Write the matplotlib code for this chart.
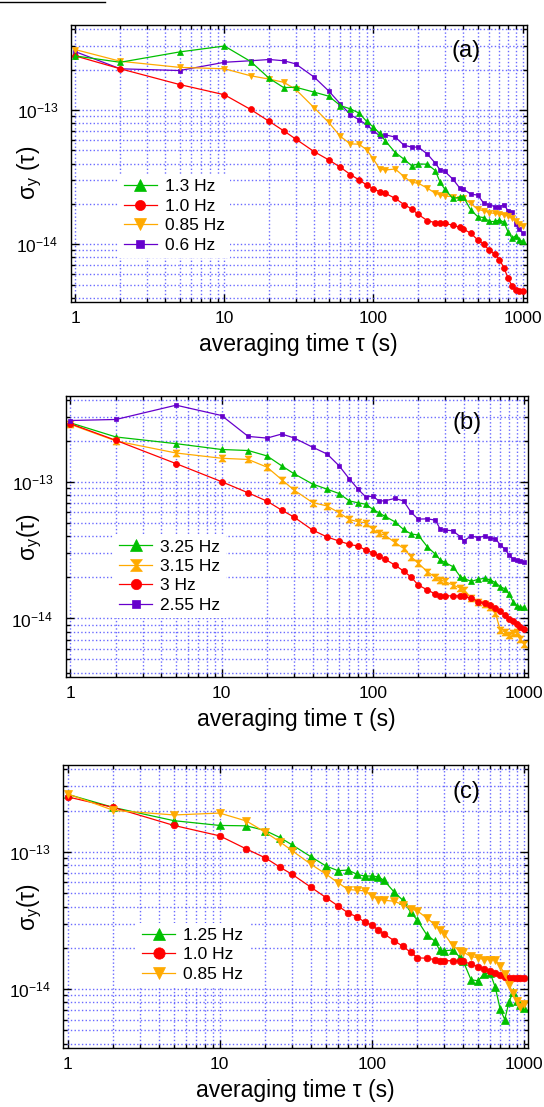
import numpy as np
import matplotlib
matplotlib.use("Agg")
import matplotlib.pyplot as plt
import matplotlib.ticker as ticker
from matplotlib.lines import Line2D

plt.rcParams["font.family"] = ["Liberation Sans", "DejaVu Sans"]
plt.rcParams["mathtext.fontset"] = "custom"
plt.rcParams["mathtext.rm"] = "Liberation Sans"
plt.rcParams["mathtext.it"] = "Liberation Sans:italic"
plt.rcParams["axes.unicode_minus"] = False

# averaging times (s), shared by all series
tau = [1, 2, 5, 10, 15, 20, 25, 30, 40, 50,
       60, 70, 80, 90, 100, 110, 120, 140, 160, 180,
       200, 230, 260, 280, 300, 340, 380, 400, 450, 500,
       550, 600, 650, 700, 750, 800, 850, 900, 950, 1000]

UNIT = 1e-13  # values below are in units of 1e-13

# panel (a)
a_13 = [2.53, 2.27, 2.71, 3.0, 2.30, 1.72, 1.47, 1.48, 1.36, 1.27,
        1.08, 1.02, 0.95, 0.823, 0.746, 0.67, 0.59, 0.483, 0.431, 0.386,
        0.397, 0.395, 0.354, 0.29, 0.259, 0.22, 0.224, 0.227, 0.18, 0.161,
        0.158, 0.148, 0.148, 0.152, 0.146, 0.124, 0.111, 0.116, 0.108, 0.105]
a_10 = [2.53, 2.03, 1.55, 1.30, 1.01, 0.823, 0.70, 0.61, 0.49, 0.426,
        0.375, 0.331, 0.302, 0.277, 0.259, 0.247, 0.24, 0.22, 0.198, 0.184,
        0.167, 0.15, 0.145, 0.143, 0.143, 0.139, 0.134, 0.13, 0.121, 0.108,
        0.1, 0.09, 0.085, 0.077, 0.067, 0.056, 0.049, 0.0456, 0.0453, 0.0453]
a_085 = [2.82, 2.31, 2.08, 2.03, 1.80, 1.70, 1.61, 1.43, 1.04, 0.81,
         0.636, 0.56, 0.557, 0.506, 0.431, 0.363, 0.358, 0.364, 0.32, 0.29,
         0.285, 0.262, 0.24, 0.234, 0.229, 0.227, 0.217, 0.22, 0.202, 0.182,
         0.178, 0.172, 0.17, 0.168, 0.166, 0.163, 0.156, 0.148, 0.141, 0.136]
a_06 = [2.72, 2.03, 1.97, 2.27, 2.33, 2.38, 2.33, 2.21, 1.76, 1.39,
        1.11, 0.923, 0.847, 0.777, 0.701, 0.643, 0.654, 0.629, 0.548, 0.53,
        0.53, 0.47, 0.402, 0.358, 0.35, 0.307, 0.262, 0.259, 0.236, 0.233,
        0.202, 0.197, 0.191, 0.191, 0.197, 0.178, 0.175, 0.141, 0.129, 0.122]

# panel (b)
b_325 = [2.73, 2.15, 1.92, 1.74, 1.71, 1.56, 1.32, 1.16, 0.97, 0.889,
         0.826, 0.73, 0.706, 0.69, 0.634, 0.597, 0.564, 0.513, 0.45, 0.417,
         0.41, 0.336, 0.296, 0.269, 0.258, 0.24, 0.203, 0.197, 0.187, 0.194,
         0.197, 0.192, 0.183, 0.171, 0.165, 0.151, 0.133, 0.124, 0.121, 0.121]
b_315 = [2.66, 2.01, 1.64, 1.50, 1.47, 1.29, 1.046, 0.88, 0.71, 0.669,
         0.597, 0.533, 0.513, 0.504, 0.45, 0.421, 0.41, 0.362, 0.327, 0.284,
         0.254, 0.221, 0.2, 0.192, 0.187, 0.176, 0.167, 0.162, 0.141, 0.131,
         0.128, 0.122, 0.109, 0.0817, 0.08, 0.076, 0.078, 0.08, 0.0706, 0.065]
b_3 = [2.69, 2.03, 1.37, 1.01, 0.836, 0.726, 0.624, 0.557, 0.446, 0.396,
       0.37, 0.35, 0.34, 0.318, 0.304, 0.289, 0.273, 0.247, 0.223, 0.201,
       0.176, 0.162, 0.151, 0.147, 0.1465, 0.1465, 0.1465, 0.145, 0.141, 0.133,
       0.1295, 0.1245, 0.119, 0.1125, 0.1064, 0.0995, 0.095, 0.0914, 0.0864, 0.0835]
b_255 = [2.84, 2.89, 3.68, 3.09, 2.17, 2.11, 2.26, 2.12, 1.81, 1.61,
         1.32, 1.06, 0.89, 0.78, 0.79, 0.73, 0.73, 0.76, 0.73, 0.60,
         0.536, 0.539, 0.527, 0.453, 0.446, 0.44, 0.398, 0.372, 0.403, 0.392,
         0.403, 0.387, 0.385, 0.346, 0.323, 0.292, 0.273, 0.269, 0.266, 0.261]

# panel (c)
c_125 = [2.63, 2.11, 1.69, 1.56, 1.55, 1.43, 1.27, 1.125, 0.92, 0.79,
         0.73, 0.738, 0.686, 0.667, 0.667, 0.659, 0.623, 0.512, 0.445, 0.365,
         0.317, 0.249, 0.224, 0.192, 0.19, 0.193, 0.171, 0.16, 0.117, 0.115,
         0.129, 0.132, 0.103, 0.0713, 0.06, 0.0807, 0.0955, 0.082, 0.0767, 0.0726]
c_10 = [2.52, 2.11, 1.56, 1.31, 1.05, 0.904, 0.772, 0.686, 0.551, 0.465,
        0.404, 0.359, 0.336, 0.308, 0.292, 0.271, 0.253, 0.226, 0.205, 0.186,
        0.169, 0.168, 0.164, 0.161, 0.161, 0.161, 0.16, 0.159, 0.152, 0.146,
        0.14, 0.136, 0.131, 0.127, 0.122, 0.12, 0.12, 0.12, 0.12, 0.12]
c_085 = [2.65, 2.01, 1.86, 1.92, 1.68, 1.39, 1.18, 1.02, 0.81, 0.69,
         0.596, 0.532, 0.526, 0.52, 0.478, 0.45, 0.445, 0.437, 0.413, 0.386,
         0.371, 0.33, 0.295, 0.27, 0.253, 0.208, 0.189, 0.186, 0.173, 0.169,
         0.164, 0.164, 0.164, 0.147, 0.128, 0.1076, 0.0935, 0.0813, 0.0746, 0.0776]

GREEN = "#00c000"
RED = "#ff0000"
ORANGE = "#ffaa00"
PURPLE = "#6600cc"
HOURGLASS = [(-1, 1), (1, 1), (0.15, 0), (1, -1), (-1, -1), (-0.15, 0), (-1, 1)]

FONT = 12.5
LABELFONT = 16.5


def setup(ax, tag, ylab, ylab_x, ylab_y):
    ax.set_xscale("log")
    ax.set_yscale("log")
    ax.set_xlim(0.93, 1065)
    ax.set_ylim(3.7e-15, 4.3e-13)
    ax.grid(True, which="both", color="#6a6aff", linestyle=":", linewidth=1.0)
    ax.set_axisbelow(True)
    ax.tick_params(which="both", direction="in", top=True, right=True,
                   labelsize=FONT, width=1.0)
    ax.tick_params(which="major", length=6)
    ax.tick_params(which="minor", length=3)
    ax.tick_params(axis="x", pad=6)
    ax.tick_params(axis="y", pad=9)
    ax.xaxis.set_major_locator(ticker.LogLocator(base=10))
    ax.xaxis.set_major_formatter(ticker.FuncFormatter(lambda v, p: f"{v:g}"))
    ax.xaxis.set_minor_formatter(ticker.NullFormatter())
    ax.yaxis.set_minor_formatter(ticker.NullFormatter())
    for s in ax.spines.values():
        s.set_linewidth(1.0)
    ax.set_xlabel("averaging time τ (s)", fontsize=LABELFONT, labelpad=5)
    ax.set_ylabel(ylab, fontsize=LABELFONT)
    ax.yaxis.set_label_coords(ylab_x, ylab_y)
    ax.text(0.868, 0.905, tag, transform=ax.transAxes, fontsize=17,
            ha="center", va="center")


def series(ax, vals, color, marker, ms, label):
    y = np.array(vals) * UNIT
    ax.plot(tau, y, color=color, marker=marker, ms=ms, lw=0.9,
            markeredgewidth=0.5, label=label)


def legend(ax, x0, y0, order=None):
    h, l = ax.get_legend_handles_labels()
    if order is not None:
        h = [h[i] for i in order]
        l = [l[i] for i in order]
    leg = ax.legend(h, l, loc="lower left", bbox_to_anchor=(x0, y0),
                    fontsize=FONT, frameon=True, fancybox=False,
                    edgecolor="none", framealpha=1.0, borderaxespad=0,
                    borderpad=0.3, handlelength=1.9, handletextpad=0.45,
                    labelspacing=0.25, markerscale=1.7)
    leg.set_zorder(5)


fig = plt.figure(figsize=(5.44, 11.07), dpi=100)

ax1 = fig.add_axes([0.130, 0.7269, 0.838, 0.2505])
series(ax1, a_06, PURPLE, "s", 3.4, "0.6 Hz")
series(ax1, a_085, ORANGE, "v", 5, "0.85 Hz")
series(ax1, a_10, RED, "o", 4.3, "1.0 Hz")
series(ax1, a_13, GREEN, "^", 5, "1.3 Hz")
setup(ax1, "(a)", "σ$_\\mathregular{y}$ (τ)", -0.058, 0.466)
legend(ax1, 0.105, 0.16, order=[3, 2, 1, 0])

ax2 = fig.add_axes([0.1208, 0.3882, 0.8496, 0.2541])
series(ax2, b_325, GREEN, "^", 5, "3.25 Hz")
series(ax2, b_315, ORANGE, HOURGLASS, 5, "3.15 Hz")
series(ax2, b_3, RED, "o", 4.4, "3 Hz")
series(ax2, b_255, PURPLE, "s", 3.0, "2.55 Hz")
setup(ax2, "(b)", "σ$_\\mathregular{y}$(τ)", -0.046, 0.5)
legend(ax2, 0.105, 0.21)

ax3 = fig.add_axes([0.1156, 0.0530, 0.8548, 0.2559])
series(ax3, c_125, GREEN, "^", 5.3, "1.25 Hz")
series(ax3, c_10, RED, "o", 4.8, "1.0 Hz")
series(ax3, c_085, ORANGE, "v", 5.3, "0.85 Hz")
setup(ax3, "(c)", "σ$_\\mathregular{y}$(τ)", -0.040, 0.5)
legend(ax3, 0.16, 0.216)

# short rule at the top-left corner of the page
fig.add_artist(Line2D([0, 105 / 544], [1 - 1.5 / 1107] * 2,
                      color="black", lw=1.0))

fig.savefig("out.png", dpi=100)
